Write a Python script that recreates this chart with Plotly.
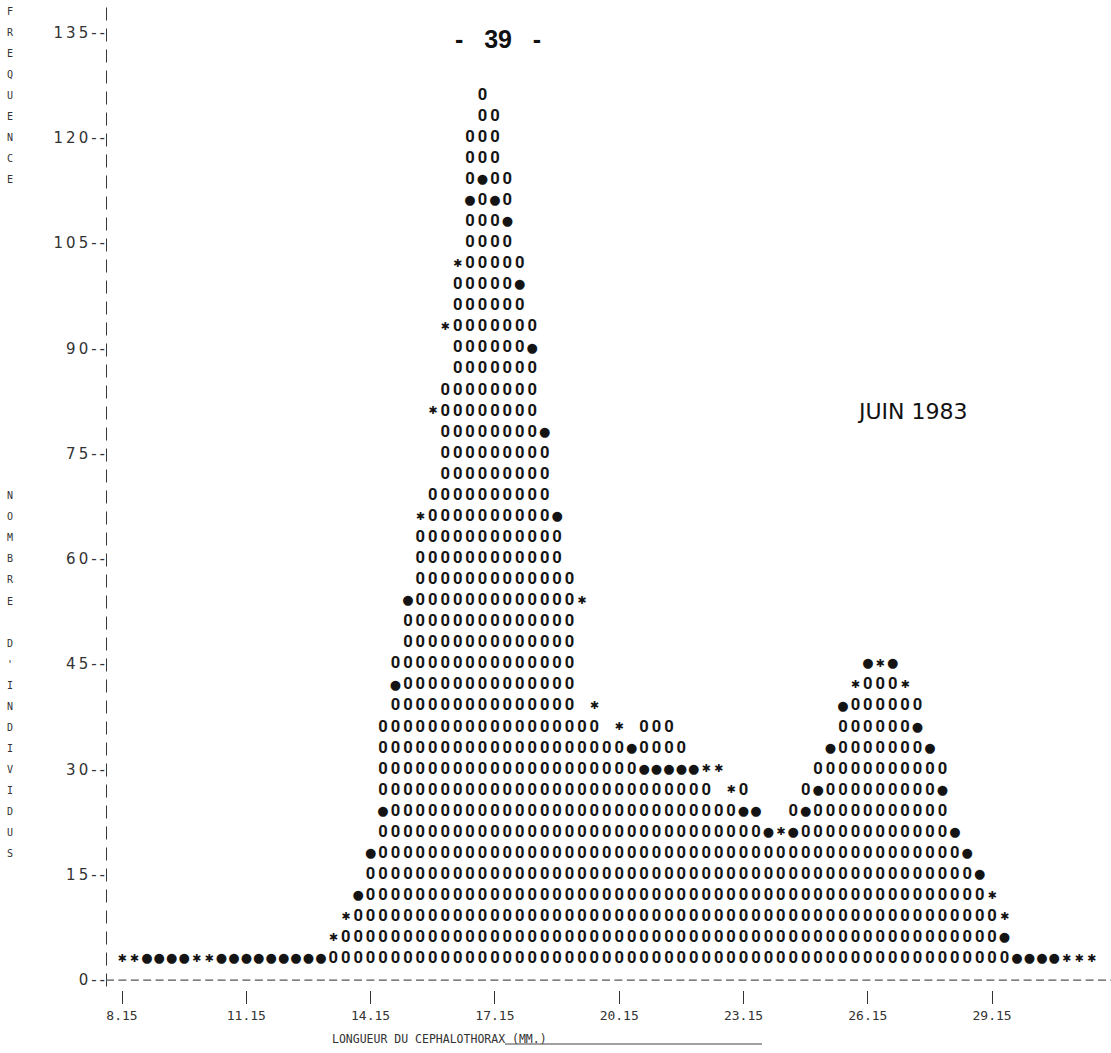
import plotly.graph_objects as go

# Carapace-length classes (mm): one printer column per 0.3 mm class
bin_start = 8.15
bin_width = 0.30
per_line = 3  # individuals represented by one printed line

# observed numbers of individuals per class (columns of printed zeros)
observed = [
    0, 0, 4, 3, 3, 4, 0, 0, 3, 3, 4, 3, 3, 4, 3, 3, 3,           # 8.15 - 12.95
    4, 6, 10, 19, 35, 46, 54, 64, 69, 85, 99, 121, 127, 124,      # 13.25 - 17.15
    114, 103, 92, 76, 63, 57, 36, 37, 34, 33, 30, 36, 37, 36,     # 17.45 - 21.35
    33, 28, 27, 24, 25, 27, 22, 18, 19, 24, 27, 30, 31, 36,       # 21.65 - 25.55
    39, 43, 42, 43, 39, 38, 30, 31, 18, 16, 12, 9, 4, 3, 3, 4, 3, # 25.85 - 30.65
    0, 0, 0,                                                      # 30.95 - 31.55
]

# classes flagged with a filled dot on the printout (level in individuals)
dot_level = [None] * len(observed)
for i, v in {2: 3, 3: 3, 4: 3, 5: 3, 8: 3, 9: 3, 10: 3, 11: 3, 12: 3, 13: 3,
             14: 3, 15: 3, 16: 3, 19: 12, 20: 18, 21: 24, 22: 42, 23: 54,
             28: 111, 29: 114, 30: 111, 31: 108, 32: 99, 33: 90, 34: 78, 35: 66,
             41: 33, 42: 30, 43: 30, 44: 30, 45: 30, 46: 30, 50: 24, 51: 24,
             52: 21, 54: 21, 55: 24, 56: 27, 57: 33, 58: 39, 60: 45, 62: 45,
             64: 36, 65: 33, 66: 27, 67: 21, 68: 18, 69: 15, 71: 6,
             72: 3, 73: 3, 74: 3, 75: 3}.items():
    dot_level[i] = v

# classes flagged with an asterisk on the printout (level in individuals)
star_level = [None] * len(observed)
for i, v in {0: 3, 1: 3, 6: 3, 7: 3, 17: 6, 18: 9, 24: 66, 25: 81, 26: 93,
             27: 102, 37: 54, 38: 39, 40: 36, 47: 30, 48: 30, 49: 27, 53: 21,
             59: 42, 61: 45, 63: 42, 70: 12, 71: 9, 76: 3, 77: 3, 78: 3}.items():
    star_level[i] = v

y_ticks = list(range(0, 136, 15))
x_ticks = [8.15, 11.15, 14.15, 17.15, 20.15, 23.15, 26.15, 29.15]
x_tick_text = ["8.15", "11.15", "14.15", "17.15", "20.15", "23.15", "26.15", "29.15"]

title_top = "FREQUENCE"
title_mid = "NOMBRE D'INDIVIDUS"

# --- line-printer cells ---
box_x, box_y, dot_x, dot_y, star_x, star_y = [], [], [], [], [], []
for i, n in enumerate(observed):
    xm = bin_start + i * bin_width
    lines = round(n / per_line)
    d_row = round(dot_level[i] / per_line) if dot_level[i] is not None else None
    s_row = round(star_level[i] / per_line) if star_level[i] is not None else None
    for k in range(1, lines + 1):
        if k != d_row and k != s_row:
            box_x.append(xm)
            box_y.append(k * per_line)
    if d_row:
        dot_x.append(xm)
        dot_y.append(d_row * per_line)
    if s_row:
        star_x.append(xm)
        star_y.append(s_row * per_line)

ink = "#141414"
fig = go.Figure()
fig.add_trace(go.Scatter(x=box_x, y=box_y, mode="text", text=["0"] * len(box_x),
                         textfont=dict(family="Roboto", size=16.5, color=ink, weight="bold"),
                         cliponaxis=False, hoverinfo="skip"))
fig.add_trace(go.Scatter(x=dot_x, y=dot_y, mode="text", text=["\u25cf"] * len(dot_x),
                         textfont=dict(family="DejaVu Sans", size=13, color=ink),
                         cliponaxis=False, hoverinfo="skip"))
fig.add_trace(go.Scatter(x=star_x, y=star_y, mode="text", text=["\u2731"] * len(star_x),
                         textfont=dict(family="DejaVu Sans", size=11, color=ink),
                         cliponaxis=False, hoverinfo="skip"))

# plot-area geometry (pixels)
W, H = 1111, 1053
left, bottom = 106, 63
px_per_mm = 12.43 / bin_width
x_lo = bin_start - (122 - left) / px_per_mm
x_hi = bin_start + (W - 122) / px_per_mm
y_lo, y_hi = -1.4, 139.6
plot_w = W - left
plot_h = H - bottom


def px_to_paper(px):
    return (px - left) / plot_w


annotations = []
# vertical titles, one letter per printer line
for j, ch in enumerate(title_top):
    annotations.append(dict(text=ch, x=px_to_paper(10), y=(46 - j) * per_line,
                            xref="paper", yref="y", showarrow=False,
                            xanchor="center", yanchor="middle",
                            font=dict(family="DejaVu Sans Mono", size=10, color="#333333")))
for j, ch in enumerate(title_mid):
    if ch != " ":
        annotations.append(dict(text=ch, x=px_to_paper(10), y=(23 - j) * per_line,
                                xref="paper", yref="y", showarrow=False,
                                xanchor="center", yanchor="middle",
                                font=dict(family="DejaVu Sans Mono", size=10, color="#333333")))

annotations += [
    dict(text="-\u00a0\u00a0\u00a039\u00a0\u00a0\u00a0-", x=px_to_paper(498), y=134,
         xref="paper", yref="y", xanchor="center", yanchor="middle", showarrow=False,
         font=dict(family="Liberation Sans", size=25, color="#111111", weight="bold")),
    dict(text="JUIN 1983", x=px_to_paper(912), y=81, xref="paper", yref="y",
         xanchor="center", yanchor="middle", showarrow=False,
         font=dict(family="DejaVu Sans", size=22, color="#111111")),
    dict(text="LONGUEUR DU CEPHALOTHORAX (MM.)",
         x=px_to_paper(330), y=0, xref="paper", yref="paper",
         xanchor="left", yanchor="top", yshift=-40, showarrow=False,
         font=dict(family="DejaVu Sans Mono", size=11.5, color="#333333")),
]

# dashed printer axes
fig.add_shape(type="line", x0=x_lo, x1=x_lo, y0=-0.9, y1=y_hi, xref="x", yref="y",
              line=dict(color="#222222", width=1.8, dash="13px,8px"))
fig.add_shape(type="line", x0=x_lo, x1=x_hi, y0=0, y1=0, xref="x", yref="y",
              line=dict(color="#555555", width=1.2, dash="8px,4.4px"))
# underline following the axis caption
y_under = -(1044 - plot_h) / plot_h
fig.add_shape(type="line", x0=px_to_paper(505), x1=px_to_paper(762), y0=y_under, y1=y_under,
              xref="paper", yref="paper", line=dict(color="#444444", width=1.2))

fig.update_layout(
    width=W, height=H,
    margin=dict(l=left, r=0, t=0, b=bottom),
    paper_bgcolor="white", plot_bgcolor="white",
    showlegend=False,
    xaxis=dict(range=[x_lo, x_hi], tickvals=x_ticks, ticktext=x_tick_text,
               ticks="outside", ticklen=13, tickwidth=1.3, tickcolor="#333333",
               showgrid=False, zeroline=False, showline=False,
               tickfont=dict(family="DejaVu Sans Mono", size=13, color="#333333")),
    yaxis=dict(range=[y_lo, y_hi], tickvals=y_ticks,
               ticktext=["\u2009".join(f"{v}--") for v in y_ticks],
               ticks="", showgrid=False, zeroline=False, showline=False,
               tickfont=dict(family="DejaVu Sans", size=15, color="#333333")),
    annotations=annotations,
)

fig.write_html("out.html")
